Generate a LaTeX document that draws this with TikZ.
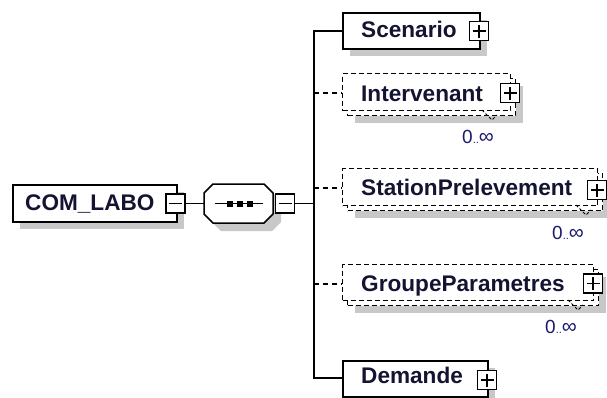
\documentclass[tikz,border=0pt]{standalone}
\usepackage{fontspec}
\setmainfont{Liberation Sans}
\definecolor{shd}{RGB}{200,200,200}
\definecolor{txt}{RGB}{20,20,50}
\definecolor{mult}{RGB}{25,25,110}
\begin{document}
\begin{tikzpicture}[x=1pt,y=-1pt,
  box/.style={draw,fill=white,line width=1.5pt,inner sep=0pt,anchor=north west},
  optbox/.style={box,dash pattern=on 5pt off 3pt,line width=1.4pt},
  shadowbox/.style={fill=shd,draw=none,inner sep=0pt,anchor=north west},
  lbl/.style={inner sep=0pt,anchor=base west,text=txt,font=\fontsize{22.6}{26}\selectfont\bfseries},
  pm/.style={draw,fill=white,line width=1.4pt,minimum size=19pt,inner sep=0pt},
  sign/.style={line width=1.4pt},
  conn/.style={line width=1.6pt},
  dconn/.style={line width=1.6pt,dash pattern=on 5pt off 4pt},
  notch/.style={line width=1pt,dash pattern=on 3pt off 2pt},
  mlt/.style={inner sep=0pt,anchor=base west,text=mult},
]
\useasboundingbox (0,0) rectangle (607,397);
\clip (0,0) rectangle (607,397);

% shadows
\node[shadowbox,minimum width=164pt,minimum height=37pt] (comS) at (20,192) {};
\fill[shd] (212,201) -- (221,192) -- (272,192) -- (281,201) -- (281,222) -- (272,231) -- (221,231) -- (212,222) -- cycle;
\node[shadowbox,minimum width=137pt,minimum height=36pt] (scenS) at (350,20) {};
\node[shadowbox,minimum width=168pt,minimum height=37pt] (intS) at (355,86) {};
\node[shadowbox,minimum width=255pt,minimum height=37pt] (staS) at (355,181) {};
\node[shadowbox,minimum width=251pt,minimum height=36pt] (grpS) at (355,277) {};
\node[shadowbox,minimum width=145pt,minimum height=36pt] (demS) at (350,368) {};

% boxes
\node[box,minimum width=164pt,minimum height=37pt] (com) at (12,184) {};
\draw[line width=1.5pt,fill=white] (204,193) -- (213,184) -- (264,184) -- (273,193) -- (273,214) -- (264,223) -- (213,223) -- (204,214) -- cycle;
\coordinate (seqW) at (204,203.5);
\coordinate (seqE) at (273,203.5);
\node[box,minimum width=137pt,minimum height=36pt] (scen) at (342,12) {};
\node[optbox,minimum width=168pt,minimum height=37pt] (intB) at (347,78) {};
\node[optbox,minimum width=168pt,minimum height=37pt] (int) at (342,73) {};
\node[optbox,minimum width=255pt,minimum height=37pt] (staB) at (347,173) {};
\node[optbox,minimum width=255pt,minimum height=37pt] (sta) at (342,168) {};
\node[optbox,minimum width=251pt,minimum height=36pt] (grpB) at (347,269) {};
\node[optbox,minimum width=251pt,minimum height=36pt] (grp) at (342,264) {};
\node[box,minimum width=145pt,minimum height=36pt] (dem) at (342,360) {};

% sequence symbol
\draw[line width=1.4pt] (215,203.5) -- (263,203.5);
\foreach \x in {230,240,250} \fill (\x-3,200.5) rectangle (\x+3,206.5);

% connectors
\node[pm] (comM) at (175.5,203.5) {};
\node[pm] (seqM) at (285,203.5) {};
\coordinate (tj) at (314,203.5);
\coordinate (tb) at (314,378);
\coordinate (ti) at (314,93);
\coordinate (ts) at (314,188);
\coordinate (tg) at (314,284);
\draw[conn] (comM.east) -- (seqW);
\draw[conn] (seqM.east) -- (tj);
\draw[conn] (scen.west) -| (tb) -- (tb -| dem.west);
\draw[dconn] (ti) -- (ti -| int.west);
\draw[dconn] (ts) -- (ts -| sta.west);
\draw[dconn] (tg) -- (tg -| grp.west);

\node[pm] (scenP) at (479,31) {};
\node[pm] (intP) at (510,93) {};
\node[pm] (staP) at (597,190) {};
\node[pm] (grpP) at (593,283.5) {};
\node[pm] (demP) at (487,380) {};

\foreach \n in {comM,seqM}
  \draw[sign] ([xshift=-6.5pt]\n.center) -- ([xshift=6.5pt]\n.center);
\foreach \n in {scenP,intP,staP,grpP,demP}
  \draw[sign] ([xshift=-6.5pt]\n.center) -- ([xshift=6.5pt]\n.center)
              ([yshift=-6.5pt]\n.center) -- ([yshift=6.5pt]\n.center);

% notches
\draw[notch] (482,110) -- (492,120) -- (497,115);
\draw[notch] (576,205) -- (586,215) -- (591,210);
\draw[notch] (568,300) -- (578,310) -- (583,305);

% labels
\node[lbl] (comT) at (25,210) {COM\_LABO};
\node[lbl] (scenT) at (361,37) {Scenario};
\node[lbl] (intT) at (361,101) {Intervenant};
\node[lbl] (staT) at (361,195) {StationPrelevement};
\node[lbl] (grpT) at (361,291.5) {GroupeParametres};
\node[lbl] (demT) at (361,383) {Demande};

\node[mlt] (intN) at (462,143) {{\fontsize{19}{20}\selectfont 0}{\fontsize{11}{12}\selectfont ..}{\fontsize{21}{20}\selectfont ∞}};
\node[mlt] (staN) at (552,239) {{\fontsize{19}{20}\selectfont 0}{\fontsize{11}{12}\selectfont ..}{\fontsize{21}{20}\selectfont ∞}};
\node[mlt] (grpN) at (545,333) {{\fontsize{19}{20}\selectfont 0}{\fontsize{11}{12}\selectfont ..}{\fontsize{21}{20}\selectfont ∞}};
\end{tikzpicture}
\end{document}
